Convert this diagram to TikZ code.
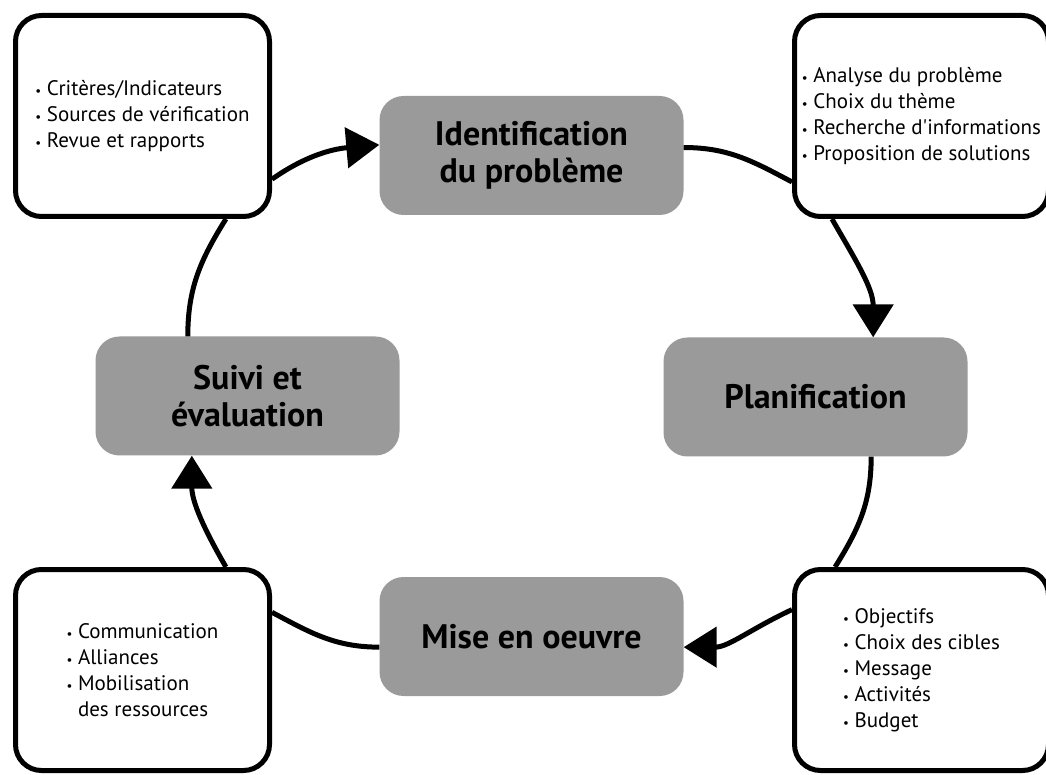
\documentclass[tikz,border=0pt]{standalone}
\usepackage{fontspec}
\setmainfont{PT Sans}
\usetikzlibrary{arrows.meta}
\definecolor{stagegray}{HTML}{9A9A9A}
\newcommand{\bul}{{\fontsize{13}{13}\selectfont\textbullet}\ }

\begin{document}
\begin{tikzpicture}
		[x=1pt,y=1pt,
		stage/.style={rectangle,rounded corners=24pt,fill=stagegray,inner sep=0pt,
			minimum width=304pt,minimum height=119pt,align=center,
			font=\fontsize{34}{37}\selectfont\bfseries},
		note/.style={rectangle,rounded corners=26pt,draw=black,fill=white,line width=5pt,
			inner sep=0pt,minimum width=254pt,minimum height=201pt,align=left,
			font=\fontsize{21}{26}\selectfont},
		flow/.style={line width=5pt},
		tip/.style={-{Triangle[length=33pt,width=40pt]}}]
		\useasboundingbox (0,0) rectangle (1046,774);

		\node [stage] (id) at (531.5,618.5) {Identification\\du problème};
		\node [stage] (plan) at (815.5,377) {Planification};
		\node [stage] (mise) at (531.5,137.5) {Mise en oeuvre};
		\node [stage] (suivi) at (247.5,378) {Suivi et\\évaluation};

		\node [note] (n1) at (142.5,658) {\bul Critères/Indicateurs\\\bul Sources de vérification\\\bul Revue et rapports};
		\node [note] (n2) at (921.5,658) {\bul Analyse du problème\\\bul Choix du thème\\\bul Recherche d\textquotesingle informations\\\bul Proposition de solutions};
		\node [note] (n3) at (921.5,104) {\bul Objectifs\\\bul Choix des cibles\\\bul Message\\\bul Activités\\\bul Budget};
		\node [note] (n4) at (142.5,104) {\bul Communication\\\bul Alliances\\\bul Mobilisation\\\phantom{\bul}des ressources};

		\draw [flow,tip] (n1.-26) to [out=35,in=185] (id.176);
		\draw [flow] (id.3) to [out=0,in=152] (n2.207);
		\draw [flow,tip] (n2.229) to [out=-60,in=90] (plan.46);
		\draw [flow] (plan.-47) to [out=-90,in=58] (n3.130);
		\draw [flow,tip] (n3.155) to [out=205,in=0] (mise.-4);
		\draw [flow] (mise.184) to [out=180,in=-28] (n4.24);
		\draw [flow,tip] (n4.51) to [out=120,in=-90] (suivi.227);
		\draw [flow] (suivi.135) to [out=90,in=-122] (n1.-51);

	\end{tikzpicture}
\end{document}
